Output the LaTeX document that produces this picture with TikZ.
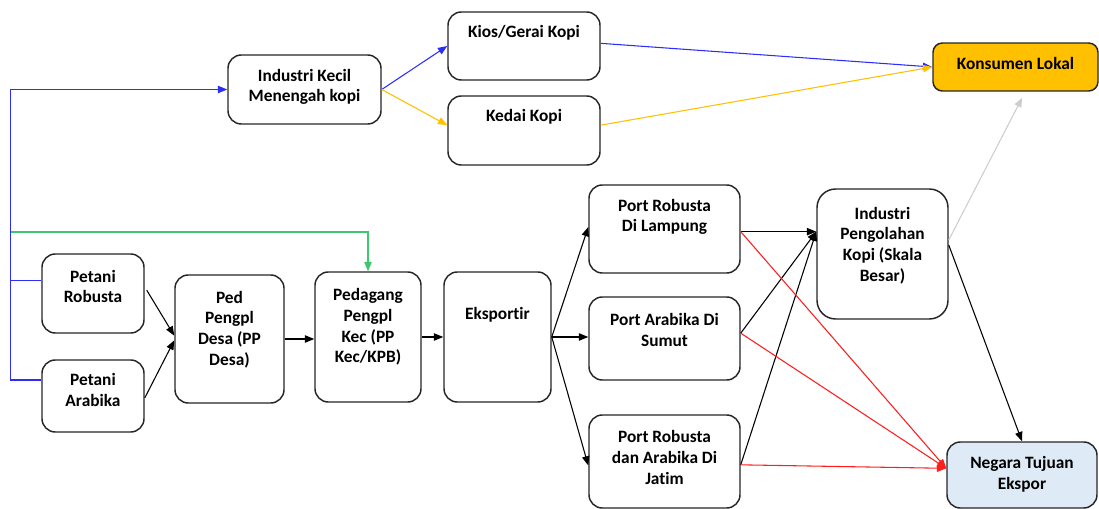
\documentclass[tikz,border=0pt]{standalone}
\usepackage{fontspec}
\setmainfont{Carlito}[Ligatures=NoCommon]
\usetikzlibrary{arrows.meta}
\definecolor{lblue}{RGB}{45,45,250}
\definecolor{lorange}{RGB}{255,192,0}
\definecolor{lgreen}{RGB}{60,200,110}
\definecolor{lred}{RGB}{255,30,30}
\definecolor{lgray}{RGB}{205,205,205}
\definecolor{negfill}{RGB}{222,235,247}
\tikzset{
  box/.style={draw=black!85, line width=1.1pt, rounded corners=10pt, fill=white, inner sep=0pt},
  txt/.style={font=\fontsize{13pt}{15.5pt}\selectfont\bfseries, align=center, inner sep=0pt},
  conn/.style={line width=0.8pt, -{Triangle[length=7pt,width=5.5pt]}},
  plain/.style={line width=0.8pt},
}
\begin{document}
\begin{tikzpicture}[x=0.75pt,y=-0.75pt]
\useasboundingbox (0,0) rectangle (1099,509);
% boxes
\node[box, minimum width=114.75pt, minimum height=51.75pt] (ikm) at (304.5,89.5) {};
\node[box, minimum width=114pt, minimum height=51pt] (kios) at (524,46) {};
\node[box, minimum width=114pt, minimum height=51.75pt] (kedai) at (524,130.5) {};
\node[box, fill=lorange, minimum width=123.75pt, minimum height=36pt, rounded corners=7pt] (kons) at (1015.5,67) {};
\node[box, minimum width=76.5pt, minimum height=59.25pt] (pr) at (93,293.5) {};
\node[box, minimum width=76.5pt, minimum height=54pt] (pa) at (93,396) {};
\node[box, minimum width=81.75pt, minimum height=96pt] (desa) at (229.5,339) {};
\node[box, minimum width=79.5pt, minimum height=97.5pt] (kec) at (368,337) {};
\node[box, minimum width=80.25pt, minimum height=97.5pt] (eks) at (497.5,337) {};
\node[box, minimum width=113.25pt, minimum height=66pt] (lamp) at (664.5,229) {};
\node[box, minimum width=113.25pt, minimum height=62.25pt] (sumut) at (664.5,338.5) {};
\node[box, minimum width=113.25pt, minimum height=69.75pt] (jatim) at (664.5,461.5) {};
\node[box, minimum width=98.25pt, minimum height=97.5pt, rounded corners=14pt] (ind) at (882.5,254) {};
\node[box, fill=negfill, minimum width=112.5pt, minimum height=49.5pt] (neg) at (1022,475) {};
% texts
\node[txt] (ikmt) at (304.5,87) {Industri Kecil\\Menengah kopi};
\node[txt] (kiost) at (524,33) {Kios/Gerai Kopi};
\node[txt] (kedait) at (524,117) {Kedai Kopi};
\node[txt] (konst) at (1015.5,63) {Konsumen Lokal};
\node[txt] (prt) at (93,286.5) {Petani\\Robusta};
\node[txt] (pat) at (93,390) {Petani\\Arabika};
\node[txt] (desat) at (229.5,329.5) {Ped\\Pengpl\\Desa (PP\\Desa)};
\node[txt] (kect) at (368,327) {Pedagang\\Pengpl\\Kec (PP\\Kec/KPB)};
\node[txt] (ekst) at (497.5,315) {Eksportir};
\node[txt] (lampt) at (664.5,217) {Port Robusta\\Di Lampung};
\node[txt] (sumutt) at (664.5,330) {Port Arabika Di\\Sumut};
\node[txt] (jatimt) at (664.5,457.5) {Port Robusta\\dan Arabika Di\\Jatim};
\node[txt] (indt) at (882.5,245.5) {Industri\\Pengolahan\\Kopi (Skala\\Besar)};
\node[txt] (negt) at (1022,474.5) {Negara Tujuan\\Ekspor};
% blue feed from farmers to IKM
\draw[conn, lblue] ([yshift=12pt]pa.west) -- ++(-31,0) |- (ikm.west);
\draw[plain, lblue] ([yshift=9.4pt]pr.west) -- ++(-31,0);
% green to kec
\coordinate (gstart) at (11,232);
\draw[conn, lgreen] (gstart) -| (kec.north);
% IKM to outlets
\draw[conn, lblue] (ikm.east) -- (kios.west);
\draw[conn, lorange] (ikm.east) -- ([yshift=4pt]kedai.west);
\draw[conn, lblue] ([yshift=2pt]kios.east) -- (kons.west);
\draw[conn, lorange] ([yshift=4pt]kedai.east) -- (kons.west);
\draw[conn, lgray] ([yshift=10.5pt]ind.east) -- ([xshift=5pt,yshift=-4.5pt]kons.south);
% main chain
\draw[conn] ([xshift=1.5pt,yshift=2.5pt]pr.east) -- ([yshift=2.5pt]desa.west);
\draw[conn] ([yshift=-1.5pt]pa.east) -- ([yshift=-1pt]desa.west);
\draw[conn] (desa.east) -- (desa.east -| kec.west);
\draw[conn] (kec.east) -- (eks.west);
\draw[conn] (eks.east) -- ([yshift=1.5pt]lamp.west);
\draw[conn] (eks.east) -- (eks.east -| sumut.west);
\draw[conn] (eks.east) -- ([yshift=-3pt]jatim.west);
% ports to industry
\draw[conn] ([yshift=-2pt]lamp.east) -- ([yshift=-2pt]lamp.east -| ind.west);
\draw[conn] ([yshift=4pt]sumut.east) -- ([yshift=-2pt]lamp.east -| ind.west);
\draw[conn] ([yshift=-2.5pt]jatim.east) -- ([yshift=-2pt]lamp.east -| ind.west);
% ports to export
\draw[conn, lred] ([yshift=-2pt]lamp.east) -- ([yshift=5pt]neg.west);
\draw[conn, lred] ([yshift=4pt]sumut.east) -- ([yshift=5pt]neg.west);
\draw[conn, lred] ([yshift=-2.5pt]jatim.east) -- ([yshift=5pt]neg.west);
\draw[conn] ([yshift=6.75pt]ind.east) -- (neg.north);
\end{tikzpicture}
\end{document}
